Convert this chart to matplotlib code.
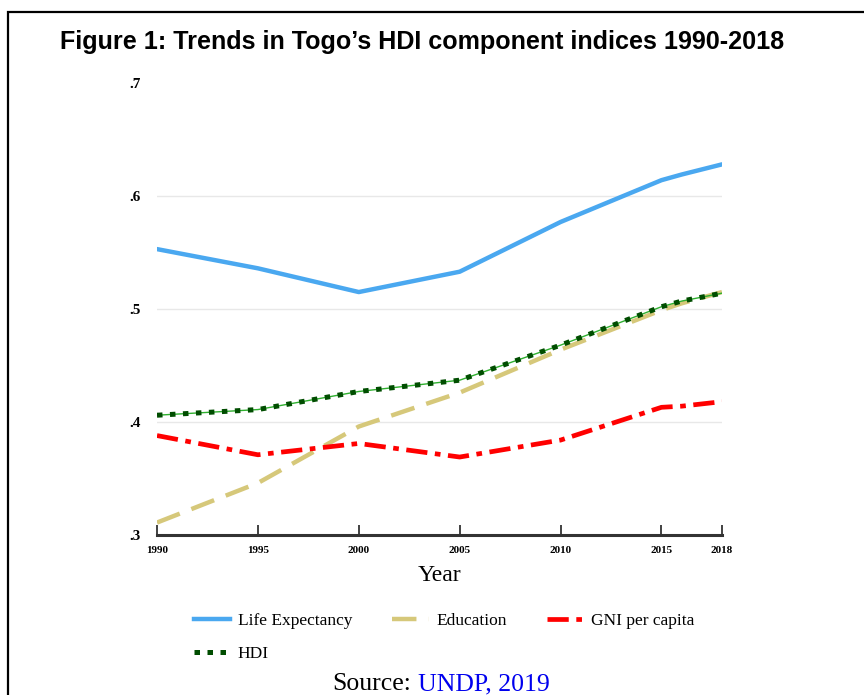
import matplotlib
matplotlib.use("Agg")
import matplotlib.pyplot as plt
from matplotlib.lines import Line2D
from matplotlib.patches import Rectangle

years = [1990, 1995, 2000, 2005, 2010, 2015, 2016, 2018]
life_expectancy = [0.553, 0.536, 0.515, 0.533, 0.577, 0.614, 0.619, 0.628]
education = [0.311, 0.346, 0.396, 0.426, 0.464, 0.499, 0.505, 0.515]
gni_per_capita = [0.388, 0.371, 0.381, 0.369, 0.384, 0.413, 0.414, 0.418]
hdi = [0.406, 0.411, 0.427, 0.437, 0.468, 0.502, 0.507, 0.514]

x_ticks = [1990, 1995, 2000, 2005, 2010, 2015, 2018]
y_ticks = [0.3, 0.4, 0.5, 0.6, 0.7]
y_labels = [".3", ".4", ".5", ".6", ".7"]

SERIF = "Liberation Serif"

fig = plt.figure(figsize=(8.64, 6.95), dpi=100)

# page frame around the figure
fig.patches.append(Rectangle((8 / 864, -0.05), 1.2, 1 - 12 / 695 + 0.05,
                             transform=fig.transFigure, fill=False,
                             edgecolor="black", linewidth=1.6))

fig.text(60 / 864, 1 - 42 / 695, "Figure 1: Trends in Togo\u2019s HDI component indices 1990-2018",
         fontsize=18.1, fontweight="bold", family="Liberation Sans", va="center", ha="left")

ax = fig.add_axes([157 / 864, 1 - 535 / 695, (722 - 157) / 864, (535 - 83) / 695])

ax.plot(years, life_expectancy, color="#4aa8f0", lw=3.2, solid_capstyle="round", zorder=3)
ax.plot(years, education, color="#d6c87a", lw=3.2, dashes=(5.5, 2.8), zorder=3)
ax.plot(years, gni_per_capita, color="#ff0000", lw=3.4, dashes=(4.5, 1.6, 1.2, 1.6), zorder=4)
ax.plot(years, hdi, color="#2fb02f", lw=1.0, zorder=4)
ax.plot(years, hdi, color="#004d00", lw=3.6, dashes=(1.1, 1.5), zorder=5)

ax.set_xlim(1990, 2018)
ax.set_ylim(0.3, 0.7)
ax.set_xticks(x_ticks)
ax.set_xticklabels([str(y) for y in x_ticks], fontsize=8, family=SERIF, fontweight="bold")
ax.set_yticks(y_ticks)
ax.set_yticklabels(y_labels, fontsize=11, family=SERIF, fontweight="bold")

for y in [0.4, 0.5, 0.6]:
    ax.axhline(y, color="#e8e8e8", lw=1, zorder=1)

for s in ["top", "right", "left"]:
    ax.spines[s].set_visible(False)
ax.spines["bottom"].set_linewidth(2.2)
ax.spines["bottom"].set_color("#333333")
ax.tick_params(axis="x", direction="in", length=7, width=1.3, color="#333333", pad=8)
ax.tick_params(axis="y", length=0, pad=12)

ax.set_xlabel("Year", fontsize=17, family=SERIF, labelpad=7)

handles = [
    Line2D([], [], color="#4aa8f0", lw=3.2),
    Line2D([], [], color="#004d00", lw=3.6, dashes=(1.1, 1.5)),
    Line2D([], [], color="#d6c87a", lw=3.2, dashes=(5.5, 2.8)),
    Line2D([], [], color="#ff0000", lw=3.4, dashes=(4.5, 1.6, 1.2, 1.6)),
]
labels = ["Life Expectancy", "HDI", "Education", "GNI per capita"]
fig.legend(handles, labels, ncol=3, loc="upper left",
           bbox_to_anchor=(178 / 864, 1 - 597 / 695),
           prop={"family": SERIF, "size": 12.5}, frameon=False,
           handlelength=2.1, handletextpad=0.45, columnspacing=2.3,
           labelspacing=1.0)

fig.text(411 / 864, 1 - 684 / 695, "Source:", fontsize=18.5, family=SERIF,
         ha="right", va="center")
fig.text(418 / 864, 1 - 684 / 695, "UNDP, 2019", fontsize=18.5, family=SERIF,
         color="#0000ee", ha="left", va="center")

fig.savefig("out.png", dpi=100)
